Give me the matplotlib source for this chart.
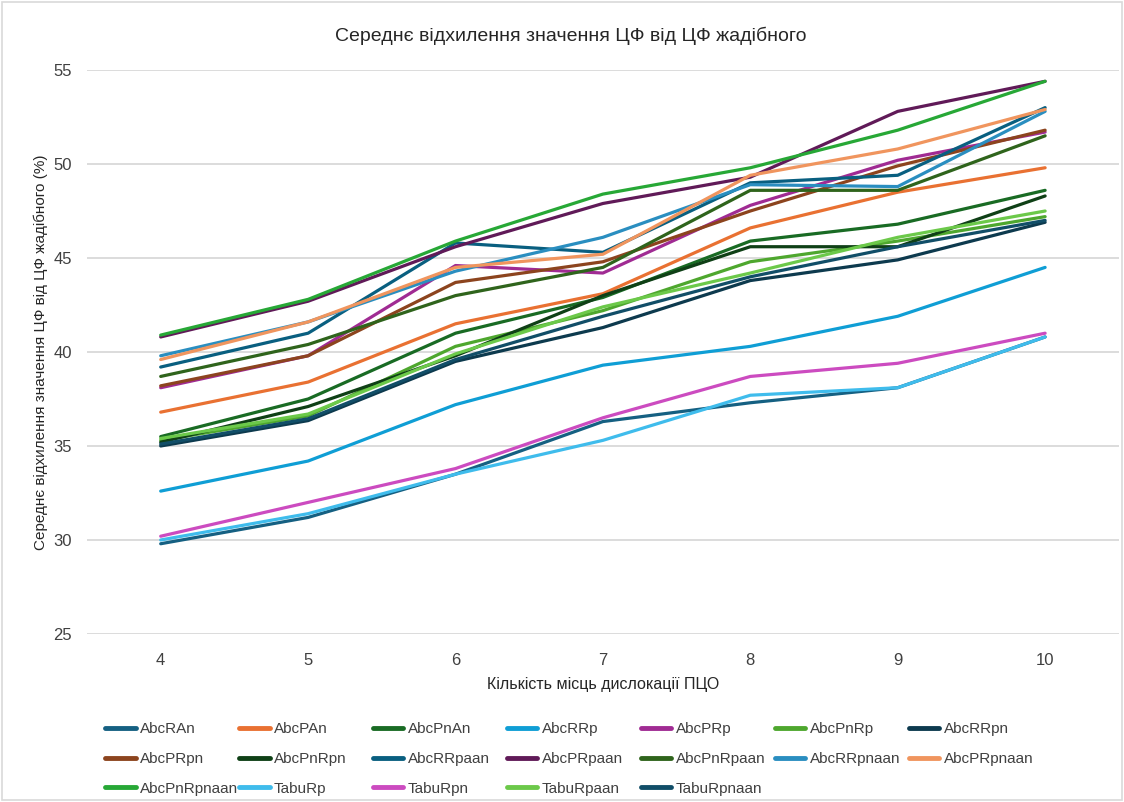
import matplotlib
matplotlib.use("Agg")
import matplotlib.pyplot as plt
from matplotlib.patches import Rectangle

plt.rcParams['font.family'] = ['Liberation Sans', 'DejaVu Sans']

# Number of deployment sites
sites = [4, 5, 6, 7, 8, 9, 10]

series_names = [
    "AbcRAn", "AbcPAn", "AbcPnAn", "AbcRRp", "AbcPRp", "AbcPnRp", "AbcRRpn",
    "AbcPRpn", "AbcPnRpn", "AbcRRpaan", "AbcPRpaan", "AbcPnRpaan", "AbcRRpnaan", "AbcPRpnaan",
    "AbcPnRpnaan", "TabuRp", "TabuRpn", "TabuRpaan", "TabuRpnaan",
]

AbcRAn      = [29.8, 31.2, 33.5, 36.3, 37.3, 38.1, 40.8]
AbcPAn      = [36.8, 38.4, 41.5, 43.1, 46.6, 48.5, 49.8]
AbcPnAn     = [35.5, 37.5, 41.0, 42.9, 45.9, 46.8, 48.6]
AbcRRp      = [32.6, 34.2, 37.2, 39.3, 40.3, 41.9, 44.5]
AbcPRp      = [38.1, 39.8, 44.6, 44.2, 47.8, 50.2, 51.7]
AbcPnRp     = [35.3, 36.6, 40.3, 42.2, 44.8, 45.9, 47.2]
AbcRRpn     = [35.0, 36.35, 39.5, 41.3, 43.8, 44.9, 46.9]
AbcPRpn     = [38.2, 39.8, 43.7, 44.8, 47.5, 49.9, 51.8]
AbcPnRpn    = [35.2, 37.1, 39.8, 43.0, 45.6, 45.6, 48.3]
AbcRRpaan   = [39.2, 41.0, 45.8, 45.3, 49.0, 49.4, 53.0]
AbcPRpaan   = [40.8, 42.7, 45.6, 47.9, 49.3, 52.8, 54.4]
AbcPnRpaan  = [38.7, 40.4, 43.0, 44.5, 48.6, 48.6, 51.5]
AbcRRpnaan  = [39.8, 41.6, 44.3, 46.1, 48.9, 48.8, 52.8]
AbcPRpnaan  = [39.6, 41.6, 44.5, 45.2, 49.4, 50.8, 52.9]
AbcPnRpnaan = [40.9, 42.8, 45.9, 48.4, 49.8, 51.8, 54.4]
TabuRp      = [30.0, 31.4, 33.5, 35.3, 37.7, 38.1, 40.8]
TabuRpn     = [30.2, 32.0, 33.8, 36.5, 38.7, 39.4, 41.0]
TabuRpaan   = [35.4, 36.7, 39.9, 42.4, 44.2, 46.1, 47.5]
TabuRpnaan  = [35.1, 36.45, 39.6, 41.9, 44.0, 45.6, 47.0]

series_values = [
    AbcRAn, AbcPAn, AbcPnAn, AbcRRp, AbcPRp, AbcPnRp, AbcRRpn,
    AbcPRpn, AbcPnRpn, AbcRRpaan, AbcPRpaan, AbcPnRpaan, AbcRRpnaan, AbcPRpnaan,
    AbcPnRpnaan, TabuRp, TabuRpn, TabuRpaan, TabuRpnaan,
]

colors = [
    "#156082", "#E97132", "#196B24", "#0F9ED5", "#A02B93", "#4EA72E", "#0D3A4E",
    "#8C441E", "#0F4016", "#095F80", "#601A58", "#2F641C", "#2A8EC0", "#F0955E",
    "#27A836", "#3FBCEC", "#CC4BC0", "#6CC94A", "#114E68",
]

y_ticks = [25, 30, 35, 40, 45, 50, 55]

fig = plt.figure(figsize=(11.24, 8.02), dpi=100)
ax = fig.add_axes([0.0774, 0.2095, 0.918, 0.7032])

handles = []
for name, vals, col in zip(series_names, series_values, colors):
    ln, = ax.plot(sites, vals, color=col, lw=2.3, label=name,
                  solid_capstyle='round', solid_joinstyle='round')
    handles.append(ln)

ax.set_xlim(3.5, 10.5)
ax.set_ylim(25, 55)
ax.set_yticks(y_ticks)
ax.set_xticks(sites)
ax.yaxis.grid(True, color="#d9d9d9", lw=1.3)
ax.set_axisbelow(True)
for s in ax.spines.values():
    s.set_visible(False)
ax.tick_params(axis='both', length=0, colors="#404040")
ax.tick_params(axis='y', labelsize=12, pad=11)
ax.tick_params(axis='x', labelsize=12, pad=14)

ax.set_xlabel("Кількість місць дислокації ПЦО", fontsize=11.5, color="#262626", labelpad=6)
ax.set_ylabel("Середнє відхилення значення ЦФ від ЦФ жадібного (%)", fontsize=11,
              color="#262626", labelpad=4)
fig.suptitle("Середнє відхилення значення ЦФ від ЦФ жадібного", fontsize=14,
             color="#262626", x=0.508, y=0.967, va="top")

# Legend laid out row by row: seven equally spaced columns
ncols = 7
col_x0 = 0.0934
col_dx = 0.1192
for c in range(ncols):
    idx = list(range(c, len(handles), ncols))
    leg = fig.legend([handles[i] for i in idx], [series_names[i] for i in idx],
                     loc="upper left", bbox_to_anchor=(col_x0 + c * col_dx, 0.0995),
                     frameon=False, fontsize=11, handlelength=2.0,
                     handletextpad=0.3, labelspacing=1.03,
                     borderpad=0, borderaxespad=0)
    for line in leg.get_lines():
        line.set_linewidth(3.5)
        line.set_solid_capstyle('round')
    for t in leg.get_texts():
        t.set_color("#404040")

fig.patches.append(Rectangle((0.002, 0.002), 0.996, 0.996, transform=fig.transFigure,
                             fill=False, edgecolor="#d9d9d9", lw=1.2))

fig.savefig("out.png", dpi=100)
